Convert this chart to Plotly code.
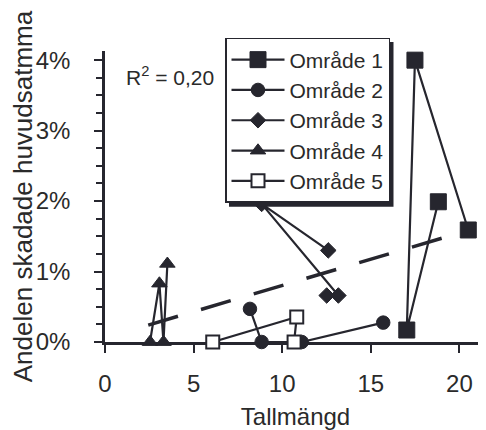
import plotly.graph_objects as go

# ---- data ----
omr1_x = [20.5, 17.49, 17.03, 18.81]
omr1_y = [1.59, 4.00, 0.17, 1.99]
omr2_x = [8.18, 8.84, 11.1, 15.7]
omr2_y = [0.47, 0.00, 0.00, 0.275]
omr3_x = [12.6, 8.84, 13.17, 12.51]
omr3_y = [1.30, 1.96, 0.66, 0.66]
omr4_x = [2.54, 3.07, 3.30, 3.52]
omr4_y = [0.00, 0.83, 0.00, 1.11]
omr5_x = [6.08, 10.82, 10.67]
omr5_y = [0.00, 0.355, 0.00]
trend_x = [2.44, 19.37]
trend_y = [0.24, 1.50]
x_ticks = [0, 5, 10, 15, 20]
y_ticks = [0, 1, 2, 3, 4]
y_ticklabels = ["0%", "1%", "2%", "3%", "4%"]

ink = "#26262e"
txt = "#2a2a2a"
font = "Arial, Liberation Sans, sans-serif"

OFF = 8  # page body margin
FW, FH = 486 - OFF, 430 - OFF
L, R, T, B = 105 - OFF, 486 - OFF, 51 - OFF, 341.7 - OFF
W, H = R - L, B - T


def px(xw):
    return (xw - OFF - L) / W


def py(yw):
    return (B - (yw - OFF)) / H


fig = go.Figure()

fig.add_trace(go.Scatter(x=trend_x, y=trend_y, mode="lines", showlegend=False,
                         line=dict(color=ink, width=3.5, dash="31px,24px"), hoverinfo="skip"))

series = [
    ("Område 1", omr1_x, omr1_y, "square", 16, ink),
    ("Område 2", omr2_x, omr2_y, "circle", 13.5, ink),
    ("Område 3", omr3_x, omr3_y, "diamond", 12, ink),
    ("Område 4", omr4_x, omr4_y, "triangle-up", 13.5, ink),
    ("Område 5", omr5_x, omr5_y, "square", 13, "white"),
]
for i, (name, xs, ys, sym, sz, fill) in enumerate(series):
    fig.add_trace(go.Scatter(
        x=xs, y=ys, mode="lines+markers", name=name,
        cliponaxis=False,
        line=dict(color=ink, width=2.2),
        marker=dict(symbol=sym, size=sz, color=fill, line=dict(color=ink, width=2 if fill == "white" else 1)),
    ))

fig.add_annotation(x=1.1, y=3.78, xref="x", yref="y", xanchor="left", yanchor="middle",
                   text="R<sup>2</sup> = 0,20", showarrow=False,
                   font=dict(family=font, size=21, color=txt))

# legend shadow
fig.add_shape(type="rect", xref="paper", yref="paper",
              x0=px(229), x1=px(393.5), y0=py(206.5), y1=py(42),
              fillcolor=ink, line=dict(width=0), layer="above")

fig.update_layout(
    width=FW, height=FH,
    margin=dict(l=L, r=FW - R, t=T, b=FH - B, pad=0, autoexpand=False),
    paper_bgcolor="white", plot_bgcolor="white",
    font=dict(family=font, color=txt, size=24),
    legend=dict(x=px(225), y=py(38), xanchor="left", yanchor="top",
                bgcolor="white", bordercolor=ink, borderwidth=1.5,
                font=dict(size=21, color=txt), itemwidth=53),
    xaxis=dict(range=[0, 21.5], tickvals=x_ticks, ticks="outside", ticklen=8, tickwidth=2,
               tickcolor=ink, showline=True, linecolor=ink, linewidth=2.5, showgrid=False,
               zeroline=False, layer="below traces", ticklabelstandoff=10, automargin=False,
               tickfont=dict(size=24, color=txt),
               title=dict(text="Tallmängd", font=dict(size=24, color=txt), standoff=15)),
    yaxis=dict(range=[0, 4.13], tickvals=y_ticks, ticktext=y_ticklabels, ticks="outside",
               ticklen=8, tickwidth=2, tickcolor=ink, showline=True, linecolor=ink, linewidth=2.5,
               showgrid=False, zeroline=False, layer="below traces", ticklabelstandoff=19,
               automargin=False,
               minor=dict(dtick=0.25, ticks="outside", ticklen=6, tickwidth=2, tickcolor=ink),
               tickfont=dict(size=24, color=txt),
               title=dict(text="Andelen skadade huvudsatmma", font=dict(size=26, color=txt), standoff=14)),
)

fig.write_html("out.html")
